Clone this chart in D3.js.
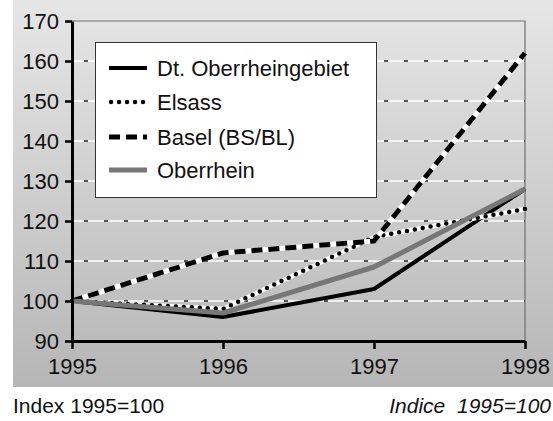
<!DOCTYPE html>
<html>
<head>
<meta charset="utf-8">
<script src="https://cdn.jsdelivr.net/npm/d3@7"></script>
<style>
  body { margin: 0; background: #fff; }
  svg { display: block; font-family: "Liberation Sans", Arial, sans-serif; }
</style>
</head>
<body>
<div id="chart"></div>
<script>
// data
var years       = [1995, 1996, 1997, 1998];
var dtOberrhein = [100, 96, 103, 128];
var elsass      = [100, 98, 116, 123];
var basel       = [100, 112, 115, 162];
var oberrhein   = [100, 97, 108.5, 128];
var seriesNames = ["Dt. Oberrheingebiet", "Elsass", "Basel (BS/BL)", "Oberrhein"];
var yTicks      = [90, 100, 110, 120, 130, 140, 150, 160, 170];
var gridTicks   = [100, 110, 120, 130, 140, 150, 160];

var W = 553, H = 421;

var svg = d3.select("#chart").append("svg")
  .attr("width", W)
  .attr("height", H);

var grad = svg.append("defs").append("linearGradient")
  .attr("id", "bg")
  .attr("x1", 0).attr("y1", 0).attr("x2", 0).attr("y2", 1);
grad.append("stop").attr("offset", "0%").attr("stop-color", "#e6e6e6");
grad.append("stop").attr("offset", "100%").attr("stop-color", "#b6b6b6");

svg.append("rect")
  .attr("x", 13).attr("y", 0)
  .attr("width", W - 13).attr("height", 387)
  .attr("fill", "url(#bg)");

var x = d3.scaleLinear().domain([1995, 1998]).range([72, 525]);
var y = d3.scaleLinear().domain([90, 170]).range([341, 21]);

// grid lines: white with short dark dashes
var grid = svg.append("g");
grid.selectAll(".gw").data(gridTicks).enter().append("line")
  .attr("x1", x(1995)).attr("x2", x(1998))
  .attr("y1", function(d) { return y(d); })
  .attr("y2", function(d) { return y(d); })
  .attr("stroke", "#fff").attr("stroke-width", 1.5);
grid.selectAll(".gd").data(gridTicks).enter().append("line")
  .attr("x1", x(1995) + 12).attr("x2", x(1998))
  .attr("y1", function(d) { return y(d); })
  .attr("y2", function(d) { return y(d); })
  .attr("stroke", "#222").attr("stroke-width", 1.5)
  .attr("stroke-dasharray", "4,16");

// plot frame top / right
svg.append("path")
  .attr("d", "M" + x(1995) + "," + y(170) + "H" + x(1998) + "V" + y(90))
  .attr("fill", "none").attr("stroke", "#707070").attr("stroke-width", 1.2);

// series
var series = [
  { name: seriesNames[0], values: dtOberrhein, color: "#000", width: 4, dash: null, under: false, cap: "butt" },
  { name: seriesNames[1], values: elsass, color: "#000", width: 4.5, dash: "0,8", under: true, cap: "round" },
  { name: seriesNames[2], values: basel, color: "#000", width: 5, dash: "11,6", under: true, cap: "butt" },
  { name: seriesNames[3], values: oberrhein, color: "#777", width: 5, dash: null, under: false, cap: "butt" }
];

var line = d3.line()
  .x(function(d, i) { return x(years[i]); })
  .y(function(d) { return y(d); });

var lines = svg.append("g");
series.forEach(function(s) {
  if (s.under) {
    lines.append("path")
      .attr("d", line(s.values))
      .attr("fill", "none").attr("stroke", "#fff")
      .attr("stroke-width", s.width)
      .attr("stroke-linejoin", "round");
  }
  lines.append("path")
    .attr("d", line(s.values))
    .attr("fill", "none").attr("stroke", s.color)
    .attr("stroke-width", s.width)
    .attr("stroke-linecap", s.cap)
    .attr("stroke-linejoin", "round")
    .attr("stroke-dasharray", s.dash);
});

// axes
var yAxis = d3.axisLeft(y).tickValues(yTicks).tickSize(7).tickSizeOuter(0).tickPadding(6);
var xAxis = d3.axisBottom(x).tickValues(years).tickSize(8).tickSizeOuter(0).tickPadding(9)
  .tickFormat(d3.format("d"));

var gy = svg.append("g").attr("transform", "translate(" + x(1995) + ",0)").call(yAxis);
var gx = svg.append("g").attr("transform", "translate(0," + y(90) + ")").call(xAxis);

[gx, gy].forEach(function(g) {
  g.select(".domain").attr("stroke", "#000").attr("stroke-width", 3);
  g.selectAll(".tick line").attr("stroke", "#000").attr("stroke-width", 2.5);
  g.selectAll(".tick text")
    .attr("fill", "#111")
    .style("font-size", "22px")
    .style("font-family", "'Liberation Sans', Arial, sans-serif");
});
gy.selectAll(".tick text").attr("dy", "0.36em");
gx.selectAll(".tick text").attr("dy", "0.71em");

// legend
var legend = svg.append("g");
legend.append("rect")
  .attr("x", 95.5).attr("y", 42.5)
  .attr("width", 281).attr("height", 155)
  .attr("fill", "#fff").attr("stroke", "#333").attr("stroke-width", 1);

var legendY = [68, 102, 137, 170];
series.forEach(function(s, i) {
  legend.append("line")
    .attr("x1", s.cap === "round" ? 111 : 109).attr("x2", 147)
    .attr("y1", legendY[i]).attr("y2", legendY[i])
    .attr("stroke", s.color)
    .attr("stroke-width", s.width)
    .attr("stroke-linecap", s.cap)
    .attr("stroke-dasharray", s.dash);
  legend.append("text")
    .attr("x", 157).attr("y", legendY[i])
    .attr("dy", "0.36em")
    .attr("fill", "#111")
    .style("font-size", "22px")
    .text(s.name);
});

// captions
svg.append("text")
  .attr("x", 13).attr("y", 413)
  .attr("fill", "#111")
  .style("font-size", "21px")
  .text("Index 1995=100");

svg.append("text")
  .attr("x", 551).attr("y", 413)
  .attr("text-anchor", "end")
  .attr("fill", "#111")
  .style("font-size", "21px")
  .style("font-style", "italic")
  .style("white-space", "pre")
  .text("Indice  1995=100");
</script>
</body>
</html>
